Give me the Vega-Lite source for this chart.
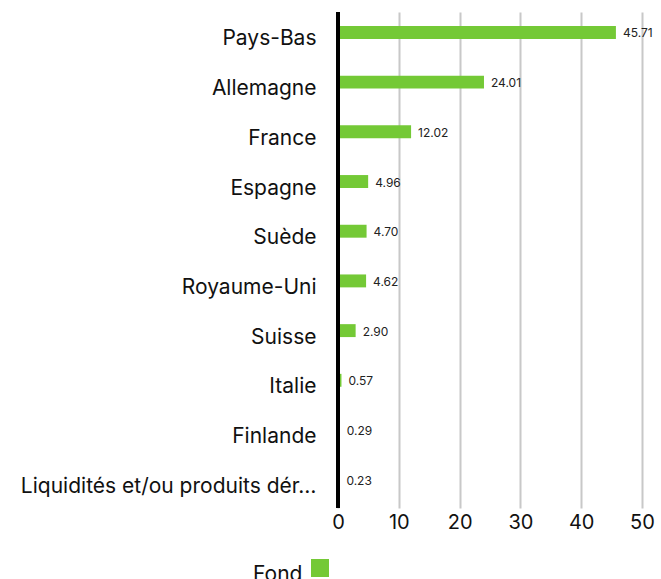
{
  "$schema": "https://vega.github.io/schema/vega-lite/v6.json",
  "autosize": {"type": "none"},
  "padding": {"left": 338, "top": 12, "right": 19, "bottom": 71},
  "width": 304,
  "height": 496,
  "background": "white",
  "config": {
    "font": "Inter",
    "view": {"stroke": null}
  },
  "data": {
    "values": [
      {"pays": "Pays-Bas", "valeur": 45.71, "serie": "Fond"},
      {"pays": "Allemagne", "valeur": 24.01, "serie": "Fond"},
      {"pays": "France", "valeur": 12.02, "serie": "Fond"},
      {"pays": "Espagne", "valeur": 4.96, "serie": "Fond"},
      {"pays": "Suède", "valeur": 4.70, "serie": "Fond"},
      {"pays": "Royaume-Uni", "valeur": 4.62, "serie": "Fond"},
      {"pays": "Suisse", "valeur": 2.90, "serie": "Fond"},
      {"pays": "Italie", "valeur": 0.57, "serie": "Fond"},
      {"pays": "Finlande", "valeur": 0.29, "serie": "Fond"},
      {"pays": "Liquidités et/ou produits dérivés", "valeur": 0.23, "serie": "Fond"}
    ]
  },
  "encoding": {
    "y": {
      "field": "pays",
      "type": "nominal",
      "sort": null,
      "scale": {"paddingInner": 0.74, "paddingOuter": 0.36, "align": 0.39},
      "axis": {
        "title": null,
        "ticks": false,
        "domain": false,
        "labelFontSize": 21,
        "labelColor": "#111111",
        "labelPadding": 22,
        "labelOffset": 7,
        "labelLimit": 300
      }
    },
    "x": {
      "field": "valeur",
      "type": "quantitative",
      "scale": {"domain": [0, 50], "nice": false},
      "axis": {
        "title": null,
        "values": [0, 10, 20, 30, 40, 50],
        "ticks": false,
        "domain": false,
        "grid": true,
        "gridColor": "#c8c8c8",
        "gridWidth": 2,
        "labelFontSize": 20,
        "labelColor": "#111111",
        "labelPadding": 4,
        "labelFlush": false
      }
    }
  },
  "layer": [
    {
      "mark": {"type": "bar", "color": "#74c936"},
      "encoding": {
        "color": {
          "field": "serie",
          "type": "nominal",
          "scale": {"range": ["#74c936"]},
          "legend": {
            "orient": "none",
            "legendX": -85,
            "legendY": 547,
            "title": "Fond",
            "titleOrient": "left",
            "titleFontSize": 21,
            "titleFontWeight": "normal",
            "titleColor": "#111111",
            "titlePadding": 8,
            "titleBaseline": "line-top",
            "titleLineHeight": 13,
            "labelExpr": "''",
            "symbolType": "square",
            "symbolSize": 324,
            "symbolStrokeWidth": 0,
            "symbolOpacity": 1
          }
        }
      }
    },
    {
      "mark": {"type": "text", "align": "left", "dx": 7, "fontSize": 12, "color": "#222222", "baseline": "middle", "dy": 1},
      "encoding": {
        "text": {"field": "valeur", "type": "quantitative", "format": ".2f"}
      }
    },
    {
      "mark": {"type": "rule", "color": "#000000", "strokeWidth": 4},
      "encoding": {
        "x": {"datum": 0},
        "y": null
      }
    }
  ]
}
